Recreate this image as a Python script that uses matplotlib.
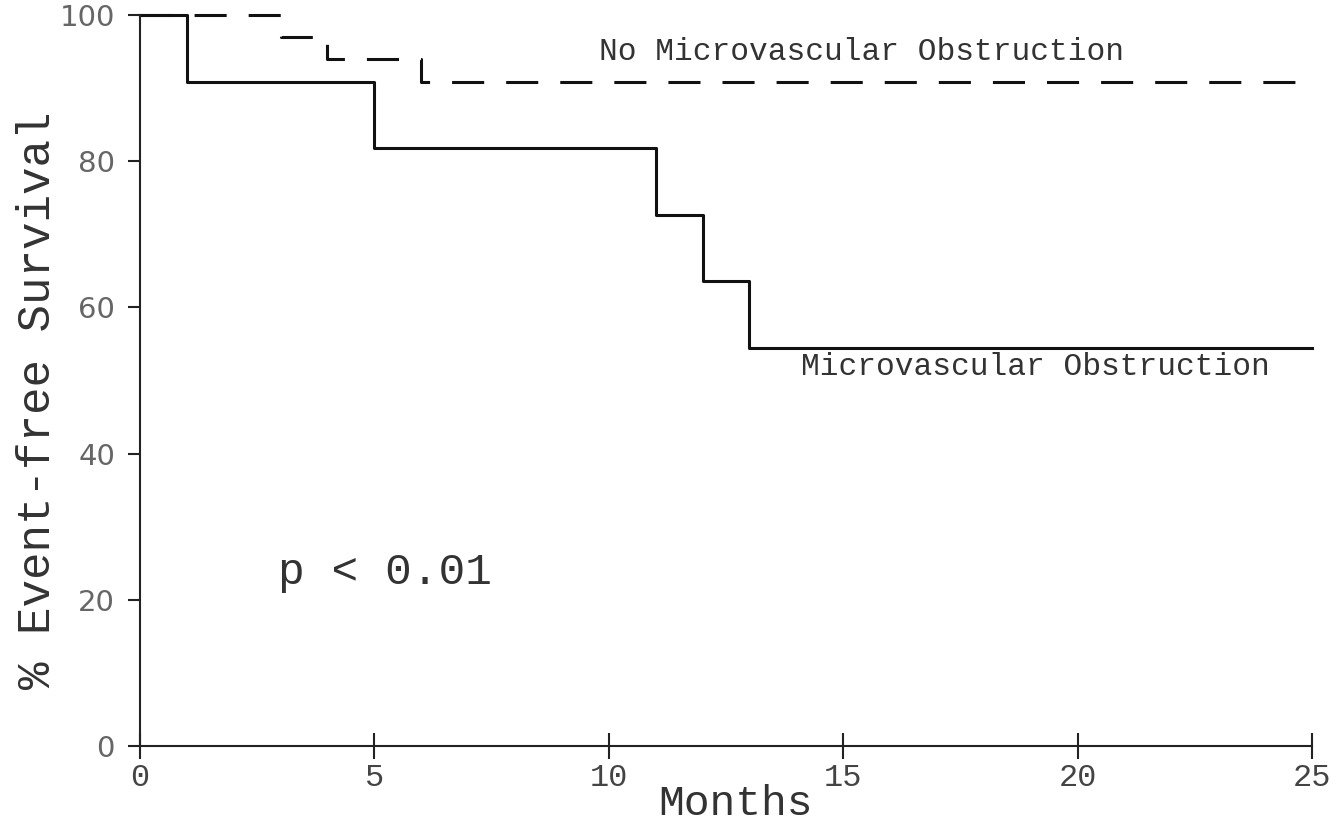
import numpy as np
from matplotlib import pyplot as plt

# step times (months) and survival (%)
mvo_months = [0, 1, 5, 11, 12, 13, 25]
mvo_surv = [100, 90.9, 81.8, 72.7, 63.6, 54.5, 54.5]

no_mvo_months = [0, 3, 4, 6, 25]
no_mvo_surv = [100, 97.0, 94.0, 90.9, 90.9]

x_ticks = [0, 5, 10, 15, 20, 25]
y_ticks = [0, 20, 40, 60, 80, 100]

mono = 'Liberation Mono'

fig = plt.figure(figsize=(13.42, 8.27), dpi=100)
ax = fig.add_axes([0.1043, 0.0979, 0.8733, 0.8839])

ax.step(mvo_months, mvo_surv, where='post', color='#111111', lw=2.2,
        clip_on=False)
ln, = ax.step(no_mvo_months, no_mvo_surv, where='post', color='#111111',
              lw=2.2, clip_on=False)
ln.set_dashes((10.5, 7.2))

ax.set_xlim(0, 25)
ax.set_ylim(0, 100)
ax.spines['top'].set_visible(False)
ax.spines['right'].set_visible(False)
for s in ['left', 'bottom']:
    ax.spines[s].set_linewidth(1.5)
    ax.spines[s].set_color('#222222')

ax.tick_params(axis='x', direction='inout', length=19, width=1.5, pad=3,
               color='#222222', labelsize=23, labelcolor='#444444')
ax.tick_params(axis='y', direction='out', length=9, width=1.5, pad=9,
               color='#222222', labelsize=21, labelcolor='#666666')
ax.set_xticks(x_ticks)
ax.set_yticks(y_ticks)
ax.set_xticklabels([str(v) for v in x_ticks])
ax.set_yticklabels([str(v) for v in y_ticks])
for t in ax.get_xticklabels():
    t.set_fontfamily(mono)
for t in ax.get_yticklabels():
    t.set_fontfamily('DejaVu Sans')

ax.set_xlabel('Months', fontfamily=mono, fontsize=31, color='#333333',
              va='bottom')
ax.xaxis.set_label_coords(0.5085, -0.107)
ax.set_ylabel('% Event-free Survival', fontfamily=mono, fontsize=33,
              color='#333333')
ax.yaxis.set_label_coords(-0.068, 0.473)

ax.text(2.94, 23.7, 'p < 0.01', fontfamily=mono, fontsize=32,
        color='#333333', va='center')
ax.text(9.8, 94.9, 'No Microvascular Obstruction', fontfamily=mono,
        fontsize=22.5, color='#333333', va='center')
ax.text(14.1, 51.8, 'Microvascular Obstruction', fontfamily=mono,
        fontsize=22.5, color='#333333', va='center')

plt.savefig('out.png', dpi=100)
